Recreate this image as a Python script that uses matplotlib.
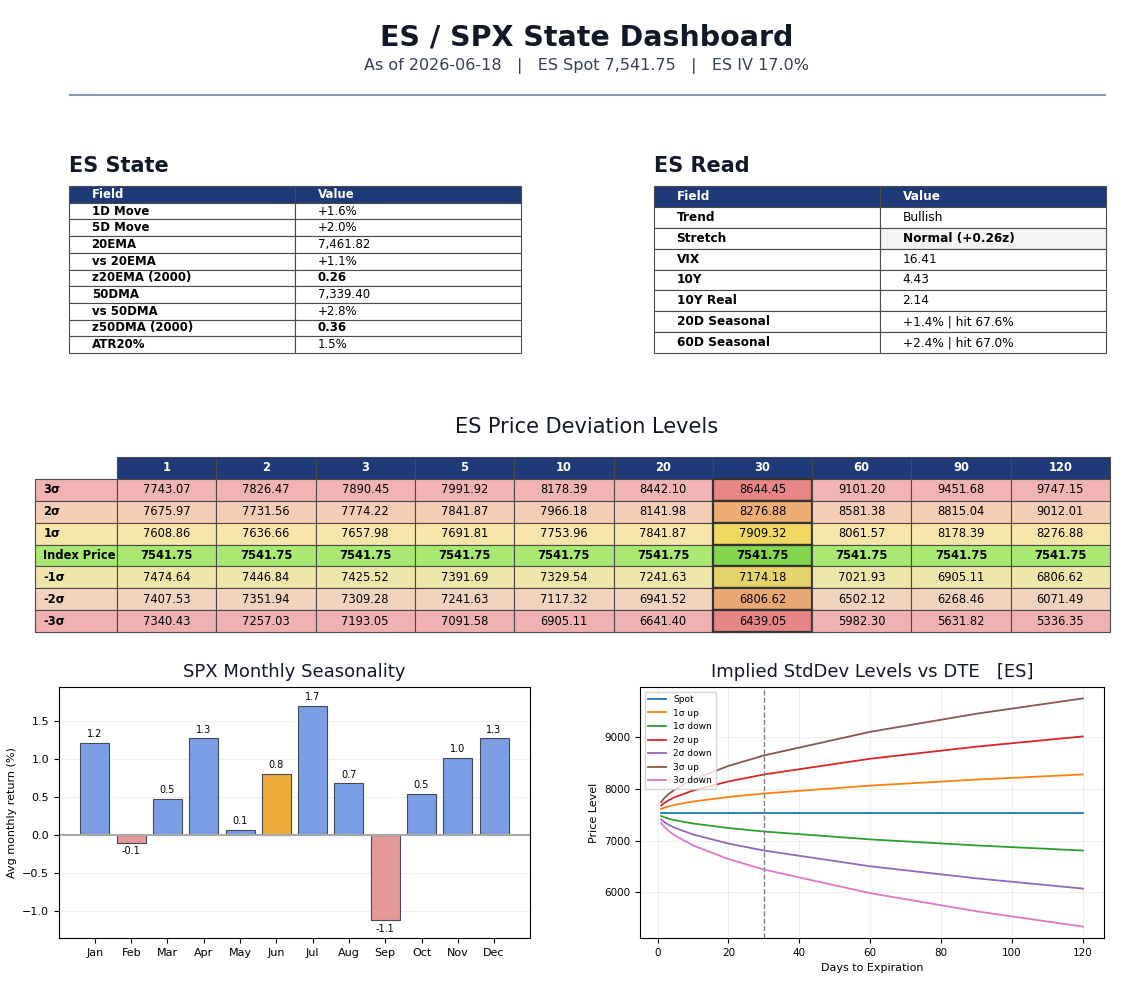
import matplotlib
matplotlib.use("Agg")
import matplotlib.pyplot as plt

W, H = 1143, 989

# --- data ---
as_of = "2026-06-18"
spot = 7541.75
es_iv = 17.0

state_fields = ["1D Move", "5D Move", "20EMA", "vs 20EMA", "z20EMA (2000)",
                "50DMA", "vs 50DMA", "z50DMA (2000)", "ATR20%"]
state_values = ["+1.6%", "+2.0%", "7,461.82", "+1.1%", "0.26",
                "7,339.40", "+2.8%", "0.36", "1.5%"]
state_bold = ["z20EMA (2000)", "z50DMA (2000)"]

read_fields = ["Trend", "Stretch", "VIX", "10Y", "10Y Real", "20D Seasonal", "60D Seasonal"]
read_values = ["Bullish", "Normal (+0.26z)", "16.41", "4.43", "2.14",
               "+1.4% | hit 67.6%", "+2.4% | hit 67.0%"]

dte = [1, 2, 3, 5, 10, 20, 30, 60, 90, 120]
level_rows = ["3σ", "2σ", "1σ", "Index Price", "-1σ", "-2σ", "-3σ"]
up3 = [7743.07, 7826.47, 7890.45, 7991.92, 8178.39, 8442.10, 8644.45, 9101.20, 9451.68, 9747.15]
up2 = [7675.97, 7731.56, 7774.22, 7841.87, 7966.18, 8141.98, 8276.88, 8581.38, 8815.04, 9012.01]
up1 = [7608.86, 7636.66, 7657.98, 7691.81, 7753.96, 7841.87, 7909.32, 8061.57, 8178.39, 8276.88]
mid = [7541.75] * 10
dn1 = [7474.64, 7446.84, 7425.52, 7391.69, 7329.54, 7241.63, 7174.18, 7021.93, 6905.11, 6806.62]
dn2 = [7407.53, 7351.94, 7309.28, 7241.63, 7117.32, 6941.52, 6806.62, 6502.12, 6268.46, 6071.49]
dn3 = [7340.43, 7257.03, 7193.05, 7091.58, 6905.11, 6641.40, 6439.05, 5982.30, 5631.82, 5336.35]
target_dte = 30

months = ["Jan", "Feb", "Mar", "Apr", "May", "Jun", "Jul", "Aug", "Sep", "Oct", "Nov", "Dec"]
seas = [1.21, -0.10, 0.48, 1.27, 0.07, 0.80, 1.70, 0.68, -1.12, 0.54, 1.01, 1.27]
cur_month = "Jun"

NAVY = "#1f3a78"
INK = "#111827"
EDGE = "#4a4a4a"

fig = plt.figure(figsize=(W / 100, H / 100), dpi=100)


def fx(px):
    return px / W


def fy(py):
    return 1 - py / H


def box(x0, y0, x1, y1):
    return [fx(x0), fy(y1), fx(x1) - fx(x0), fy(y0) - fy(y1)]


# header
fig.text(fx(587), fy(38), "ES / SPX State Dashboard", ha="center", va="center",
         fontsize=20.5, fontweight="bold", color=INK)
fig.text(fx(587), fy(66), f"As of {as_of}   |   ES Spot {spot:,.2f}   |   ES IV {es_iv:.1f}%",
         ha="center", va="center", fontsize=11.5, color="#334155")
fig.add_artist(plt.Line2D([fx(70), fx(1105)], [fy(95), fy(95)], color="#8a9bb0", lw=1.5))


def kv_table(rect, title, fields, values, fs, bold_rows=(), shaded=None):
    ax = fig.add_axes(rect)
    ax.axis("off")
    fig.text(rect[0], fy(166), title, ha="left", va="center",
             fontsize=15, fontweight="bold", color=INK)
    cells = [[f, v] for f, v in zip(fields, values)]
    t = ax.table(cellText=cells, colLabels=["Field", "Value"], cellLoc="left",
                 colLoc="left", bbox=[0, 0, 1, 1])
    t.auto_set_font_size(False)
    t.set_fontsize(fs)
    for (r, c), cell in t.get_celld().items():
        cell.set_edgecolor(EDGE)
        cell.set_linewidth(0.8)
        if r == 0:
            cell.set_facecolor(NAVY)
            cell.get_text().set_color("white")
            cell.get_text().set_fontweight("bold")
        else:
            cell.set_facecolor("white")
            if c == 0 or fields[r - 1] in bold_rows:
                cell.get_text().set_fontweight("bold")
            if shaded is not None and fields[r - 1] == shaded and c == 1:
                cell.set_facecolor("#f1f3f5")
    return t


kv_table(box(69, 186, 521, 353), "ES State", state_fields, state_values, 8.5,
         bold_rows=state_bold)
kv_table(box(654, 186, 1106, 353), "ES Read", read_fields, read_values, 8.7,
         bold_rows=["Stretch"], shaded="Stretch")

# deviation levels table
fig.text(fx(587), fy(427), "ES Price Deviation Levels", ha="center", va="center",
         fontsize=15, color=INK)
axd = fig.add_axes(box(35, 457, 1110, 632))
axd.axis("off")
grid = [up3, up2, up1, mid, dn1, dn2, dn3]
cell_text = [[lab] + [f"{v:.2f}" for v in row] for lab, row in zip(level_rows, grid)]
row_colors = ["#f2b3b3", "#f5cdb5", "#f7e5a9", "#a9e971", "#efe7aa", "#f2d3be", "#efb1b1"]
hi_colors = ["#e88686", "#eeae73", "#efd960", "#84d64c", "#e4d46a", "#e8a873", "#e68585"]
td = axd.table(cellText=cell_text, colLabels=[""] + [str(d) for d in dte],
               cellLoc="center", colLoc="center", bbox=[0, 0, 1, 1])
td.auto_set_font_size(False)
td.set_fontsize(8.3)
hi_col = dte.index(target_dte) + 1
for (r, c), cell in td.get_celld().items():
    cell.set_edgecolor(EDGE)
    cell.set_linewidth(0.8)
    cell.set_width(82 if c == 0 else 99.3)
    if r == 0:
        if c == 0:
            cell.set_visible(False)
            continue
        cell.set_facecolor(NAVY)
        cell.get_text().set_color("white")
        cell.get_text().set_fontweight("bold")
        continue
    if c == 0:
        cell.set_facecolor(row_colors[r - 1])
        cell.get_text().set_fontweight("bold")
        cell.get_text().set_horizontalalignment("left")
        cell._loc = "left"
    elif c == hi_col:
        cell.set_facecolor(hi_colors[r - 1])
        cell.set_edgecolor("#333333")
        cell.set_linewidth(1.6)
    else:
        cell.set_facecolor(row_colors[r - 1])
    if level_rows[r - 1] == "Index Price":
        cell.get_text().set_fontweight("bold")

# seasonality bars
axb = fig.add_axes(box(59, 687, 530, 938))
colors = []
for m, v in zip(months, seas):
    if m == cur_month:
        colors.append("#efaa3c")
    elif v >= 0:
        colors.append("#7b9de4")
    else:
        colors.append("#e59898")
bars = axb.bar(months, seas, color=colors, edgecolor="#3f4a5a", linewidth=0.8, width=0.8)
axb.axhline(0, color="#aaaaaa", lw=1.5)
for b, v in zip(bars, seas):
    x = b.get_x() + b.get_width() / 2
    if v >= 0:
        axb.text(x, v + 0.05, f"{v:.1f}", ha="center", va="bottom", fontsize=7)
    else:
        axb.text(x, v - 0.05, f"{v:.1f}", ha="center", va="top", fontsize=7)
axb.set_ylim(-1.355, 1.947)
axb.set_title("SPX Monthly Seasonality", fontsize=13, color=INK, pad=7)
axb.set_ylabel("Avg monthly return (%)", fontsize=8)
axb.tick_params(labelsize=8)
axb.grid(axis="y", alpha=0.2)
axb.set_axisbelow(True)

# implied std dev levels
axl = fig.add_axes(box(640, 687, 1104, 938))
series = [("Spot", mid), ("1σ up", up1), ("1σ down", dn1), ("2σ up", up2),
          ("2σ down", dn2), ("3σ up", up3), ("3σ down", dn3)]
for name, ys in series:
    axl.plot(dte, ys, label=name, lw=1.3)
axl.axvline(target_dte, color="gray", ls="--", lw=1)
axl.set_title("Implied StdDev Levels vs DTE   [ES]", fontsize=13, color=INK, pad=7)
axl.set_xlabel("Days to Expiration", fontsize=8)
axl.set_ylabel("Price Level", fontsize=8)
axl.tick_params(labelsize=7.5)
axl.grid(alpha=0.2)
axl.legend(loc="upper left", fontsize=6.5)

fig.savefig("out.png", dpi=100)
